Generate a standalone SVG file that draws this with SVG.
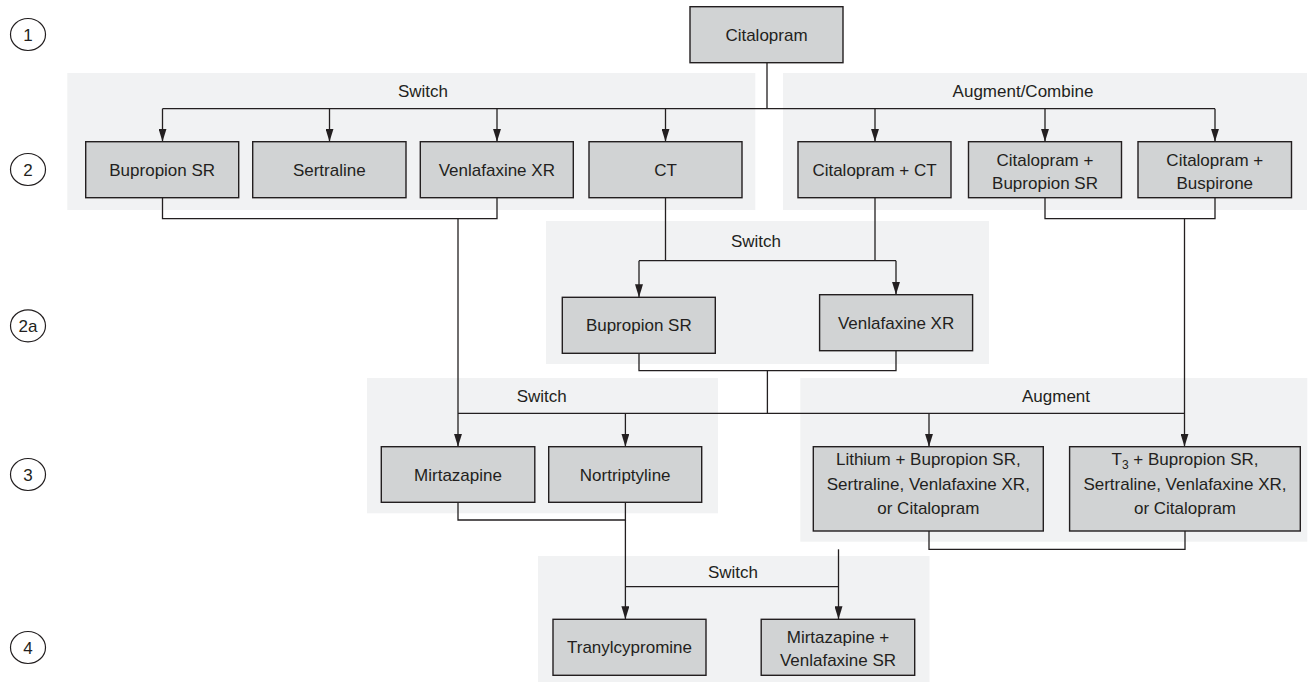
<svg xmlns="http://www.w3.org/2000/svg" width="1310" height="683" viewBox="0 0 1310 683">
<style>
.panel{fill:#f1f2f3}
.box{fill:#d1d3d4;stroke:#231f20;stroke-width:1.4}
.t{font-family:"Liberation Sans",Arial,sans-serif;font-size:17px;fill:#231f20;text-anchor:middle}
.c{fill:none;stroke:#231f20;stroke-width:1.3}
.a{marker-end:url(#arr)}
.lvl{fill:#fff;stroke:#231f20;stroke-width:1.2}
</style>
<defs>
<marker id="arr" viewBox="0 0 13 8" refX="13" refY="4" markerWidth="13" markerHeight="8" markerUnits="userSpaceOnUse" orient="auto">
<path d="M0,0 L13,4 L0,8 z" fill="#231f20"/>
</marker>
</defs>
<rect width="1310" height="683" fill="#fff"/>
<g id="panels">
<rect class="panel" x="67.3" y="73" width="688" height="137"/>
<rect class="panel" x="783" y="73" width="524" height="137"/>
<rect class="panel" x="546" y="221" width="443" height="143"/>
<rect class="panel" x="367" y="378" width="351" height="135.3"/>
<rect class="panel" x="800.3" y="378" width="507" height="163.7"/>
<rect class="panel" x="538" y="556" width="391.5" height="126"/>
<text class="t" x="423" y="96.7">Switch</text>
<text class="t" x="1023" y="96.7">Augment/Combine</text>
<text class="t" x="756" y="246.7">Switch</text>
<text class="t" x="541.7" y="401.7">Switch</text>
<text class="t" x="1056" y="401.7">Augment</text>
<text class="t" x="733" y="578.3">Switch</text>
</g>
<g id="levels">
<g id="level-1"><ellipse class="lvl" cx="28" cy="34.5" rx="17.5" ry="16"/><text class="t" x="28" y="40.5">1</text></g>
<g id="level-2"><ellipse class="lvl" cx="28" cy="169.5" rx="17.5" ry="16"/><text class="t" x="28" y="175.5">2</text></g>
<g id="level-2a"><ellipse class="lvl" cx="28" cy="325.8" rx="17.5" ry="16"/><text class="t" x="28" y="331.8">2a</text></g>
<g id="level-3"><ellipse class="lvl" cx="28" cy="474.5" rx="17.5" ry="16"/><text class="t" x="28" y="480.5">3</text></g>
<g id="level-4"><ellipse class="lvl" cx="28" cy="647.5" rx="17.5" ry="16"/><text class="t" x="28" y="653.5">4</text></g>
</g>
<g id="connectors">
<path class="c" d="M767,62.7 V108.7 M162.5,108.7 H1215"/>
<path class="c a" d="M162.5,108.7 V141.7"/>
<path class="c a" d="M329.5,108.7 V141.7"/>
<path class="c a" d="M497,108.7 V141.7"/>
<path class="c a" d="M665.5,108.7 V141.7"/>
<path class="c a" d="M875,108.7 V141.7"/>
<path class="c a" d="M1045,108.7 V141.7"/>
<path class="c a" d="M1215,108.7 V141.7"/>
<path class="c" d="M162.5,197.7 V218.7 H497 V197.7"/>
<path class="c a" d="M458,218.7 V446.7"/>
<path class="c" d="M1045,197.7 V218.7 H1215 V197.7"/>
<path class="c a" d="M1184.5,218.7 V446.7"/>
<path class="c" d="M665.5,197.7 V260.7 M875,197.7 V260.7 M639,260.7 H896"/>
<path class="c a" d="M639,260.7 V297.3"/>
<path class="c a" d="M896,260.7 V294.7"/>
<path class="c" d="M639,353.3 V370.7 H896 V350.7 M767.4,370.7 V413.3 M458,413.3 H1184.5"/>
<path class="c a" d="M625.4,413.3 V446.7"/>
<path class="c a" d="M929,413.3 V446.7"/>
<path class="c" d="M458,502.3 V520 H625.4 V502.3"/>
<path class="c a" d="M625.4,520 V619.3"/>
<path class="c" d="M929,531 V549.3 H1185 V531"/>
<path class="c a" d="M838.5,549.3 V619.3"/>
<path class="c" d="M625.4,586.7 H838.5"/>
</g>
<g id="citalopram"><rect class="box" x="690" y="6.7" width="153" height="56"/><text class="t" x="766.5" y="40.7">Citalopram</text></g>
<g id="bupropion-sr"><rect class="box" x="85.7" y="141.7" width="153" height="56"/><text class="t" x="162.2" y="175.5">Bupropion SR</text></g>
<g id="sertraline"><rect class="box" x="252.7" y="141.7" width="153.3" height="56"/><text class="t" x="329.3" y="175.5">Sertraline</text></g>
<g id="venlafaxine-xr"><rect class="box" x="420.3" y="141.7" width="153" height="56"/><text class="t" x="496.8" y="175.5">Venlafaxine XR</text></g>
<g id="ct"><rect class="box" x="589" y="141.7" width="153" height="56"/><text class="t" x="665.5" y="175.5">CT</text></g>
<g id="citalopram-ct"><rect class="box" x="798" y="141.7" width="153" height="56"/><text class="t" x="874.5" y="175.5">Citalopram + CT</text></g>
<g id="citalopram-bupropion"><rect class="box" x="968.5" y="141.7" width="153" height="56"/><text class="t" x="1045" y="165.5">Citalopram +</text><text class="t" x="1045" y="188.5">Bupropion SR</text></g>
<g id="citalopram-buspirone"><rect class="box" x="1138" y="141.7" width="153.5" height="56"/><text class="t" x="1214.8" y="165.5">Citalopram +</text><text class="t" x="1214.8" y="188.5">Buspirone</text></g>
<g id="bupropion-sr-2a"><rect class="box" x="562.3" y="297.3" width="153" height="56"/><text class="t" x="638.8" y="331">Bupropion SR</text></g>
<g id="venlafaxine-xr-2a"><rect class="box" x="819.6" y="294.7" width="153" height="56"/><text class="t" x="896.1" y="328.5">Venlafaxine XR</text></g>
<g id="mirtazapine"><rect class="box" x="381.3" y="446.7" width="153.5" height="55.6"/><text class="t" x="458" y="480.5">Mirtazapine</text></g>
<g id="nortriptyline"><rect class="box" x="548.7" y="446.7" width="153" height="55.6"/><text class="t" x="625.2" y="480.5">Nortriptyline</text></g>
<g id="lithium"><rect class="box" x="813.3" y="446.7" width="230" height="84.3"/><text class="t" x="928.3" y="465">Lithium + Bupropion SR,</text><text class="t" x="928.3" y="489.5">Sertraline, Venlafaxine XR,</text><text class="t" x="928.3" y="514">or Citalopram</text></g>
<g id="t3"><rect class="box" x="1069.6" y="446.7" width="230.7" height="84.3"/><text class="t" x="1185" y="465">T<tspan font-size="12" dy="4">3</tspan><tspan dy="-4"> + Bupropion SR,</tspan></text><text class="t" x="1185" y="489.5">Sertraline, Venlafaxine XR,</text><text class="t" x="1185" y="514">or Citalopram</text></g>
<g id="tranylcypromine"><rect class="box" x="553" y="619.3" width="153" height="56"/><text class="t" x="629.5" y="653">Tranylcypromine</text></g>
<g id="mirtazapine-venlafaxine"><rect class="box" x="761.2" y="619.3" width="153.5" height="56"/><text class="t" x="838" y="642.5">Mirtazapine +</text><text class="t" x="838" y="665.5">Venlafaxine SR</text></g>
</svg>
